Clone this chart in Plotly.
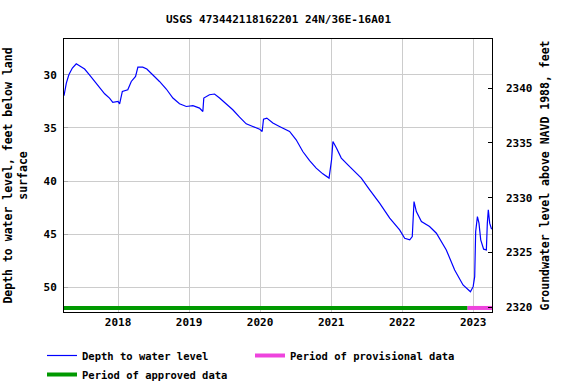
import plotly.graph_objects as go

# Depth to water level, feet below land surface
dates = [
    "2017-03-29", "2017-04-10", "2017-04-23", "2017-05-11", "2017-05-31", "2017-06-17",
    "2017-07-13", "2017-08-07", "2017-09-02", "2017-09-28", "2017-10-24", "2017-11-18",
    "2017-12-05", "2018-01-01", "2018-01-09", "2018-01-23", "2018-02-20", "2018-03-10",
    "2018-04-01", "2018-04-13", "2018-05-08", "2018-05-29", "2018-06-29", "2018-08-02",
    "2018-09-06", "2018-10-10", "2018-11-13", "2018-12-18", "2019-01-21", "2019-02-24",
    "2019-03-13", "2019-03-18", "2019-04-16", "2019-05-12", "2019-06-07", "2019-07-11",
    "2019-08-14", "2019-09-18", "2019-10-22", "2019-11-25", "2019-12-30", "2020-01-12",
    "2020-01-19", "2020-02-05", "2020-03-07", "2020-04-10", "2020-06-01", "2020-07-05",
    "2020-08-08", "2020-09-12", "2020-10-16", "2020-11-19", "2020-12-21", "2021-01-03",
    "2021-01-10", "2021-01-28", "2021-02-22", "2021-03-28", "2021-05-02", "2021-06-05",
    "2021-07-18", "2021-09-07", "2021-10-29", "2021-12-19", "2022-01-14", "2022-02-09",
    "2022-02-22", "2022-03-03", "2022-03-15", "2022-04-10", "2022-05-22", "2022-06-26",
    "2022-08-16", "2022-09-28", "2022-11-10", "2022-12-18", "2023-01-01", "2023-01-09",
    "2023-01-14", "2023-01-23", "2023-01-31", "2023-02-09", "2023-02-24", "2023-03-10",
    "2023-03-15", "2023-03-20", "2023-03-27", "2023-04-06",
]
depth = [
    31.97, 30.78, 30.00, 29.37, 28.97, 29.15,
    29.46, 30.00, 30.63, 31.25, 31.79, 32.19,
    32.60, 32.51, 32.73, 31.57, 31.41, 30.63,
    30.16, 29.28, 29.28, 29.46, 30.00, 30.63,
    31.34, 32.19, 32.73, 32.98, 32.91, 33.13,
    33.45, 32.19, 31.88, 31.81, 32.19, 32.73,
    33.29, 33.98, 34.61, 34.86, 35.11, 35.33,
    34.17, 34.07, 34.54, 34.86, 35.33, 36.11,
    37.21, 38.06, 38.77, 39.31, 39.71, 37.99,
    36.27, 36.89, 37.83, 38.46, 39.09, 39.71,
    40.81, 42.06, 43.47, 44.57, 45.36, 45.51,
    45.20, 41.91, 42.85, 43.79, 44.26, 44.89,
    46.46, 48.34, 49.75, 50.38, 49.91, 48.97,
    44.73, 43.32, 43.94, 45.51, 46.39, 46.46,
    43.94, 42.69, 43.94, 44.51,
]

approved_period = ["2017-03-15", "2022-12-02"]
provisional_period = ["2022-12-02", "2023-04-12"]
period_depth = 51.91

x_range = ["2017-03-29", "2023-04-08"]
depth_range = [52.29, 26.64]
gw_range = [2319.57, 2344.47]

FONT = "DejaVu Sans Mono"

fig = go.Figure()
fig.add_trace(go.Scatter(
    x=dates, y=depth, mode="lines", name="Depth to water level",
    line=dict(color="#0000ff", width=1.2), legendrank=1,
))
fig.add_trace(go.Scatter(
    x=provisional_period, y=[period_depth] * 2, mode="lines",
    name="Period of provisional data",
    line=dict(color="#ee44dd", width=4), legendrank=2,
))
fig.add_trace(go.Scatter(
    x=approved_period, y=[period_depth] * 2, mode="lines",
    name="Period of approved data",
    line=dict(color="#009900", width=4), legendrank=3,
))
# invisible trace to carry the right-hand axis
fig.add_trace(go.Scatter(
    x=[dates[0]], y=[2330], yaxis="y2", mode="lines", showlegend=False,
    hoverinfo="skip", opacity=0,
))

fig.update_layout(
    width=576, height=384,
    margin=dict(l=64, r=84, t=39, b=72, autoexpand=False),
    paper_bgcolor="white", plot_bgcolor="white",
    font=dict(family=FONT, size=11, color="black", weight="bold"),
    title=dict(text="USGS 473442118162201 24N/36E-16A01", x=0.4835, xanchor="center",
               y=1 - 19 / 384, yanchor="middle", yref="container",
               font=dict(family=FONT, size=11, weight="bold")),
    xaxis=dict(
        type="date", range=x_range, dtick="M12", tick0="2018-01-01", tickformat="%Y",
        showgrid=True, gridcolor="#cccccc", gridwidth=1,
        showline=True, linecolor="black", linewidth=1, mirror=True,
        ticks="", zeroline=False, automargin=False,
    ),
    yaxis=dict(
        range=depth_range, dtick=5, tick0=30,
        showgrid=True, gridcolor="#cccccc", gridwidth=1,
        showline=True, linecolor="black", linewidth=1, mirror=True,
        ticks="inside", ticklen=4, tickcolor="#aaaaaa", zeroline=False,
        ticklabelstandoff=4, automargin=False,
        title=dict(text="Depth to water level, feet below land<br>surface",
                   font=dict(family=FONT, size=11.5, weight="bold"), standoff=13),
    ),
    yaxis2=dict(
        range=gw_range, dtick=5, tick0=2320, overlaying="y", side="right",
        showgrid=False, showline=False, ticks="inside", ticklen=4, tickcolor="black",
        zeroline=False, ticklabelstandoff=13, automargin=False,
        title=dict(text="Groundwater level above NAVD 1988, feet",
                   font=dict(family=FONT, size=11.5, weight="bold"), standoff=9),
    ),
    legend=dict(
        orientation="h", x=42 / 576, xanchor="left", y=1 - 341 / 384, yanchor="top",
        xref="container", yref="container",
        entrywidth=163, entrywidthmode="pixels",
        font=dict(family=FONT, size=10.5, weight="bold"),
        bgcolor="rgba(0,0,0,0)", tracegroupgap=0,
    ),
    showlegend=True,
)

fig.write_html("out.html", config={"displayModeBar": False},
               post_script="document.body.style.margin='0';")
